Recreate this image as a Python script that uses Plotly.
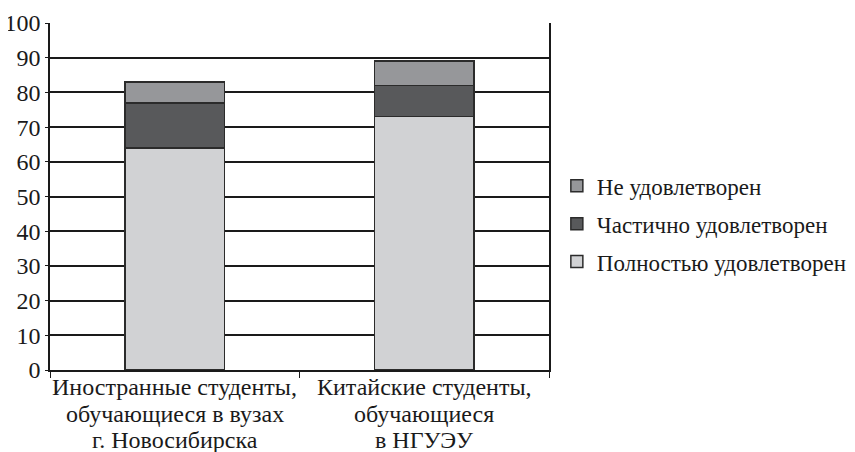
import plotly.graph_objects as go

category_lines = [["Иностранные студенты,", "обучающиеся в вузах", "г. Новосибирска"],
                  ["Китайские студенты,", "обучающиеся", "в НГУЭУ"]]
categories = ["<br>".join(lines) for lines in category_lines]
series_names = ["Полностью удовлетворен", "Частично удовлетворен", "Не удовлетворен"]
full = [64, 73]
partial = [13, 9]
not_sat = [6, 7]
colors = ["#d1d2d4", "#58595b", "#96979a"]

font_family = "Liberation Serif"

fig = go.Figure()
for i, (name, vals, col) in enumerate(zip(series_names, [full, partial, not_sat], colors)):
    fig.add_trace(go.Bar(x=categories, y=vals, name=name, legendgroup=f"g{i}",
                         legendrank=100 - i,
                         marker=dict(color=col, line=dict(color="#2b2b2b", width=1.5))))

# category labels as separate lines (tight line spacing as in the original)
for cat, lines in zip(categories, category_lines):
    for j, line in enumerate(lines):
        fig.add_annotation(x=cat, xref="x", y=0, yref="paper", yanchor="middle",
                           yshift=-(17 + 26.5 * j), text=line, showarrow=False,
                           font=dict(family=font_family, size=24, color="#1a1a1a"))

fig.update_layout(
    width=847, height=444,
    barmode="stack", bargap=0.6,
    plot_bgcolor="white", paper_bgcolor="white",
    margin=dict(l=42, r=306, t=15, b=82),
    font=dict(family=font_family, size=24, color="#1a1a1a"),
    legend=dict(tracegroupgap=5,
                xref="container", yref="container",
                x=0.648, xanchor="left", y=0.514, yanchor="middle",
                font=dict(size=23, family=font_family, color="#1a1a1a")),
)
fig.update_yaxes(range=[0, 100], dtick=10, showgrid=True, gridcolor="#1a1a1a", gridwidth=2,
                 showline=True, linecolor="#1a1a1a", linewidth=1.5, mirror=True,
                 ticks="outside", ticklen=3, tickcolor="#1a1a1a", zeroline=False,
                 tickfont=dict(size=24, family=font_family), automargin=False)
fig.update_xaxes(showline=True, linecolor="#1a1a1a", linewidth=1.5, ticks="outside",
                 tickson="boundaries", ticklen=6, tickcolor="#1a1a1a",
                 showticklabels=False, automargin=False)

fig.write_html("out.html")
